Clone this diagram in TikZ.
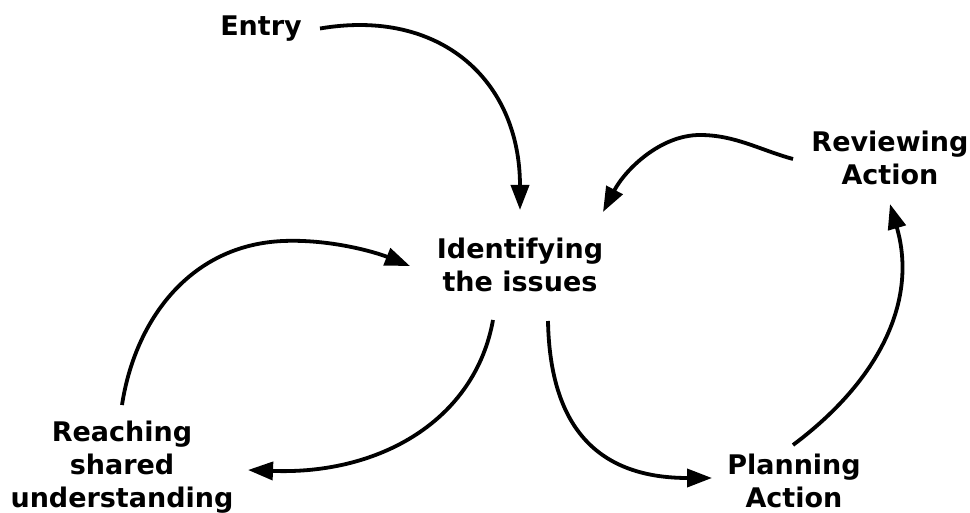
\documentclass[tikz,border=0pt]{standalone}
\usepackage{fontspec}
\setmainfont{DejaVu Sans}
\usetikzlibrary{arrows.meta}
\begin{document}
\begin{tikzpicture}[x=1pt,y=-1pt,
  lbl/.style={font=\bfseries\fontsize{27}{33}\selectfont, align=center, inner sep=0pt},
  conn/.style={line width=3.8pt, -{Triangle[length=25pt,width=18pt]}}]
\useasboundingbox (0,0) rectangle (970,513);
\fill[white] (0,0) rectangle (970,513);
\node[lbl] (entry)  at (261,28.5) {Entry};
\node[lbl] (ident)  at (520,265) {Identifying\\the issues};
\node[lbl] (review) at (890,158) {Reviewing\\Action};
\node[lbl] (reach)  at (122,467) {Reaching\\shared\\understanding};
\node[lbl] (plan)   at (794,481) {Planning\\Action};
% Entry -> Identifying
\draw[conn] ([shift={(59,0)}]entry.center) .. controls (440,8) and (520,80) .. ([shift={(0,-55)}]ident.center);
% Reaching -> Identifying
\draw[conn] ([shift={(0,-62)}]reach.center) .. controls (135,320) and (190,245) .. (283,241)
  .. controls (330,239) and (375,252) .. ([shift={(-110,1)}]ident.center);
% Identifying -> Reaching
\draw[conn] ([shift={(-27,55)}]ident.center) .. controls (475,420) and (380,475) .. ([shift={(126,3)}]reach.center);
% Identifying -> Planning
\draw[conn] ([shift={(28,56)}]ident.center) .. controls (550,430) and (600,478) .. ([shift={(-82,-3)}]plan.center);
% Planning -> Reviewing
\draw[conn] ([shift={(-1,-36)}]plan.center) .. controls (880,380) and (918,300) .. ([shift={(0,46)}]review.center);
% Reviewing -> Identifying
\draw[conn] ([shift={(-97,1)}]review.center) .. controls (760,150) and (735,135) .. (700,135)
  .. controls (660,135) and (625,170) .. ([shift={(83,-53)}]ident.center);
\end{tikzpicture}
\end{document}
